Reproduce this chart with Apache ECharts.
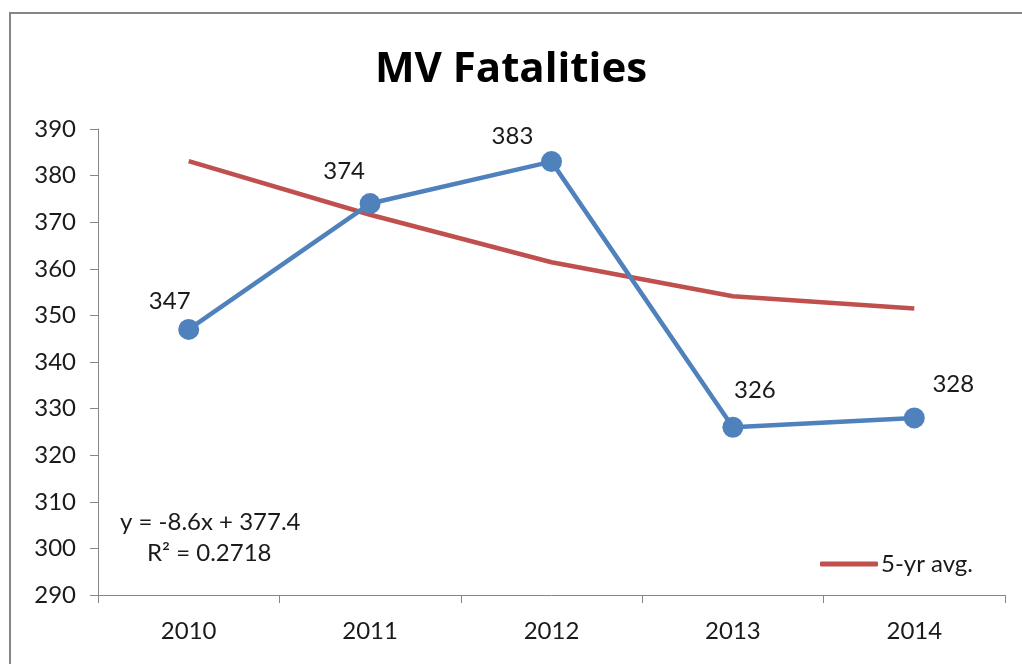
<!DOCTYPE html>
<html>
<head>
<meta charset="utf-8">
<script src="https://cdn.jsdelivr.net/npm/echarts@6/dist/echarts.min.js"></script>
<style>
  html, body { margin: 0; padding: 0; background: #fff; }
  #chart { width: 1022px; height: 664px; }
</style>
</head>
<body>
<div id="chart"></div>
<script>
// chart data
const years = ['2010', '2011', '2012', '2013', '2014'];
const fatalities = [347, 374, 383, 326, 328];
const fiveYrAvg = [383.1, 371.6, 361.4, 354.1, 351.5];
const yTicks = { min: 290, max: 390, step: 10 };
const trendText = ['y = -8.6x + 377.4', 'R² = 0.2718'];

// where each value label sits relative to its point
const labelOffsets = [[-19, -4], [-26, -8], [-39, -1], [22, -12], [39, -9]];

const font = 'Lato, "Open Sans", sans-serif';

const chart = echarts.init(document.getElementById('chart'));
const option = {
  animation: false,
  textStyle: { fontFamily: font },
  title: {
    text: 'MV Fatalities',
    left: 'center',
    top: 44,
    textStyle: { fontSize: 42, fontWeight: 'bold', color: '#000', fontFamily: '"Open Sans", sans-serif' }
  },
  legend: {
    data: [{ name: '5-yr avg.', icon: 'roundRect' }],
    left: 815,
    top: 547,
    itemWidth: 58,
    itemHeight: 5,
    itemGap: 4,
    textStyle: { fontSize: 24, color: '#1a1a1a', padding: [0, 0, 0, -2] }
  },
  grid: { left: 98, right: 17, top: 129, bottom: 69 },
  xAxis: {
    type: 'category',
    data: years,
    boundaryGap: true,
    axisLine: { lineStyle: { color: '#868686', width: 1 } },
    axisTick: { show: true, length: 8, lineStyle: { color: '#868686' } },
    axisLabel: { fontSize: 24, color: '#1a1a1a', margin: 24 }
  },
  yAxis: {
    type: 'value',
    min: yTicks.min,
    max: yTicks.max,
    interval: yTicks.step,
    axisLine: { show: true, lineStyle: { color: '#868686', width: 1 } },
    axisTick: { show: true, length: 8, lineStyle: { color: '#868686' } },
    splitLine: { show: false },
    axisLabel: { fontSize: 24, color: '#1a1a1a', margin: 22 }
  },
  series: [
    {
      name: 'MV Fatalities',
      type: 'line',
      data: fatalities.map((v, i) => ({
        value: v,
        label: { offset: labelOffsets[i] }
      })),
      symbol: 'circle',
      symbolSize: 21,
      lineStyle: { color: '#4F81BD', width: 4.5 },
      itemStyle: { color: '#4F81BD' },
      label: {
        show: true,
        position: 'top',
        distance: 2,
        fontSize: 24,
        color: '#1a1a1a'
      },
      z: 3
    },
    {
      name: '5-yr avg.',
      type: 'line',
      data: fiveYrAvg,
      symbol: 'none',
      lineStyle: { color: '#C0504D', width: 4.5 },
      itemStyle: { color: '#C0504D' },
      z: 2
    }
  ],
  graphic: [
    {
      type: 'rect',
      silent: true,
      shape: { x: 10, y: 13, width: 1030, height: 700 },
      style: { fill: 'none', stroke: '#868686', lineWidth: 2 }
    },
    {
      type: 'text',
      left: 120,
      top: 510,
      style: { text: trendText[0], fontSize: 24, fill: '#1a1a1a', fontFamily: font }
    },
    {
      type: 'text',
      left: 147,
      top: 541,
      style: { text: trendText[1], fontSize: 24, fill: '#1a1a1a', fontFamily: font }
    }
  ]
};
chart.setOption(option);
</script>
</body>
</html>
